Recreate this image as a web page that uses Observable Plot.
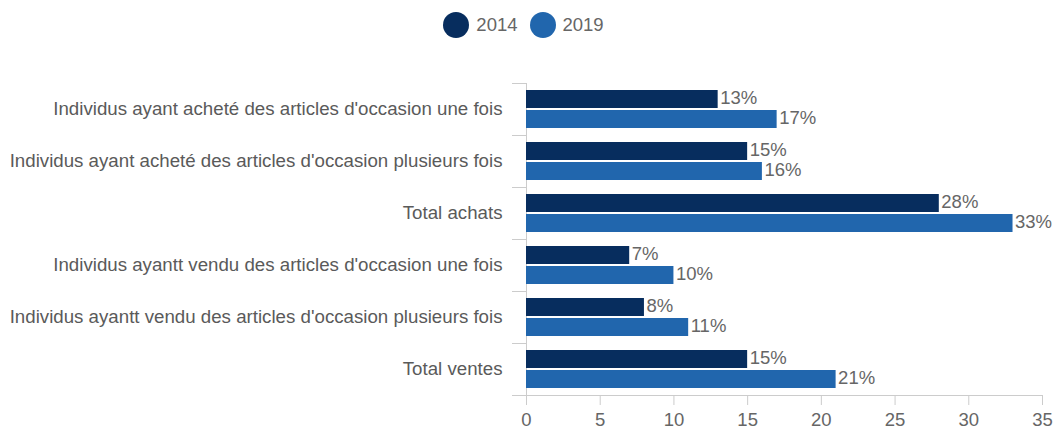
<!DOCTYPE html>
<html><head><meta charset="utf-8">
<script src="https://cdn.jsdelivr.net/npm/d3@7"></script>
<script src="https://cdn.jsdelivr.net/npm/@observablehq/plot@0.6"></script>
<style>
body{margin:0;background:#fff;font-family:"Liberation Sans",Arial,sans-serif;}
#legend{height:48px;display:flex;justify-content:center;align-items:center;gap:12px;font-size:18.5px;color:#666;padding-top:2px;padding-right:8px;box-sizing:border-box}
.item{display:flex;align-items:center;gap:7px}
.sw{width:26px;height:26px;border-radius:50%;display:inline-block}
</style></head>
<body>
<div id="legend"></div>
<div id="chart"></div>
<script>
const categories = [
  "Individus ayant acheté des articles d'occasion une fois",
  "Individus ayant acheté des articles d'occasion plusieurs fois",
  "Total achats",
  "Individus ayantt vendu des articles d'occasion une fois",
  "Individus ayantt vendu des articles d'occasion plusieurs fois",
  "Total ventes"
];
const years = ["2014", "2019"];
const values2014 = [13, 15, 28, 7, 8, 15];
const values2019 = [17, 16, 33, 10, 11, 21];
const xTicks = [0, 5, 10, 15, 20, 25, 30, 35];
const colors = ["#072d5e", "#2166ad"];

const data = categories.flatMap((c, i) => [
  {cat: c, year: years[0], value: values2014[i]},
  {cat: c, year: years[1], value: values2019[i]}
]);

const legend = document.getElementById("legend");
years.forEach((y, i) => {
  const it = document.createElement("span");
  it.className = "item";
  it.innerHTML = `<span class="sw" style="background:${colors[i]}"></span><span>${y}</span>`;
  legend.appendChild(it);
});

const plotW = 1055 - 526 - 13;
const chart = Plot.plot({
  width: 1055,
  height: 389,
  marginTop: 35,
  marginBottom: 42,
  marginLeft: 526,
  marginRight: 13,
  style: {fontFamily: "'Liberation Sans', Arial, sans-serif", fontSize: "18px", color: "#666", background: "#fff"},
  x: {domain: [0, 35]},
  fy: {domain: categories, padding: 0, label: null},
  y: {domain: years, paddingInner: 0.095, paddingOuter: 0.286, axis: null},
  color: {domain: years, range: colors},
  marks: [
    Plot.frame({anchor: "top", insetLeft: -14, insetRight: plotW, stroke: "#ccc"}),
    Plot.ruleX([0], {stroke: "#ccc"}),
    Plot.frame({anchor: "bottom", facetAnchor: "bottom", insetLeft: -14, stroke: "#ccc"}),
    Plot.barX(data, {fy: "cat", y: "year", x: "value", fill: "year"}),
    Plot.text(data, {fy: "cat", y: "year", x: "value", text: d => d.value + "%", textAnchor: "start", dx: 2, dy: -1.5,
      fill: "#666", stroke: "white", strokeWidth: 3, fontSize: 18.5}),
    Plot.axisFy({anchor: "left", tickSize: 0, tickPadding: 24, fontSize: 18.7, fill: "#5a5a5a", label: null}),
    Plot.axisX({ticks: xTicks, tickSize: 10, tickPadding: 7, stroke: "#ccc", fill: "#666", fontSize: 18.5, label: null})
  ]
});
document.getElementById("chart").appendChild(chart);
</script>
</body></html>
